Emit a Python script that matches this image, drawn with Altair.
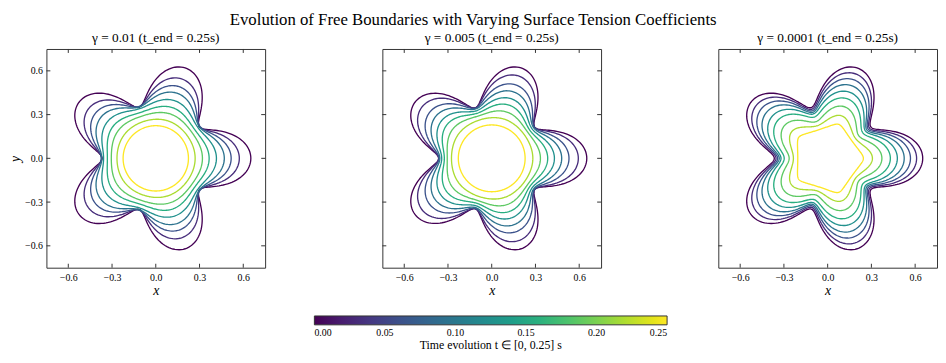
import numpy as np
import pandas as pd
import altair as alt

FONT = "Liberation Serif"

# time stamps of the plotted boundaries (9 snapshots in [0, 0.25] s)
times = [0.0, 0.03125, 0.0625, 0.09375, 0.125, 0.15625, 0.1875, 0.21875, 0.25]

# radius at a petal tip (angle 0) and at a valley (angle 36 deg),
# plus how strongly each boundary is pinched at its necks (negative = flattened sides)
tips_g1 = [0.652, 0.573, 0.517, 0.470, 0.416, 0.366, 0.320, 0.270, 0.224]
vals_g1 = [0.368, 0.372, 0.374, 0.370, 0.358, 0.332, 0.305, 0.266, 0.224]
neck_g1 = [0.045, 0.04, 0.03, 0.02, 0.01, 0.0, 0.0, 0.0, 0.0]

tips_g2 = [0.652, 0.594, 0.530, 0.480, 0.430, 0.384, 0.334, 0.282, 0.229]
vals_g2 = [0.364, 0.364, 0.362, 0.356, 0.343, 0.325, 0.305, 0.276, 0.229]
neck_g2 = [0.045, 0.045, 0.04, 0.03, 0.02, 0.01, 0.0, -0.02, 0.0]

tips_g3 = [0.652, 0.610, 0.568, 0.525, 0.478, 0.430, 0.372, 0.307, 0.245]
vals_g3 = [0.366, 0.354, 0.343, 0.332, 0.320, 0.298, 0.264, 0.235, 0.205]
neck_g3 = [0.045, 0.045, 0.045, 0.045, 0.04, 0.03, 0.015, -0.03, -0.09]

panel_titles = [
    "γ = 0.01 (t_end = 0.25s)",
    "γ = 0.005 (t_end = 0.25s)",
    "γ = 0.0001 (t_end = 0.25s)",
]
tick_vals = [-0.6, -0.3, 0.0, 0.3, 0.6]
cbar_ticks = [0.0, 0.05, 0.10, 0.15, 0.20, 0.25]

W = H = 222
TL = 4  # inward tick length (px)


def boundary_table(tips, vals, necks):
    s = np.linspace(0, 2 * np.pi, 361)
    rows = []
    for k, t in enumerate(times):
        r0 = (tips[k] + vals[k]) / 2
        a = (tips[k] - vals[k]) / 2
        phi = s + necks[k] * np.sin(5 * s)
        r = r0 + a * np.cos(5 * s)
        for i in range(len(s)):
            rows.append({"curve": k, "t": t, "i": i,
                         "x": r[i] * np.cos(phi[i]), "y": r[i] * np.sin(phi[i])})
    return pd.DataFrame(rows)


ticks_df = pd.DataFrame({"v": tick_vals})
dom = [-0.75, 0.75]


def panel(tips, vals, necks, title, show_y):
    df = boundary_table(tips, vals, necks)
    xs = alt.Scale(domain=dom, nice=False, zero=False)
    ys = alt.Scale(domain=dom, nice=False, zero=False)
    lines = alt.Chart(df).mark_line(strokeWidth=1.35, clip=True).encode(
        x=alt.X("x:Q", scale=xs,
                axis=alt.Axis(values=tick_vals, format=".1f", ticks=False, domain=False,
                              grid=False, labelPadding=5, title="x",
                              titleFontStyle="italic", titleFontWeight="normal",
                              titleFontSize=14, titlePadding=1, labelFontSize=10,
                              labelFont=FONT, titleFont=FONT, labelColor="black",
                              titleColor="black")),
        y=alt.Y("y:Q", scale=ys,
                axis=alt.Axis(values=tick_vals, format=".1f", ticks=False, domain=False,
                              grid=False, labelPadding=4, title="y" if show_y else None,
                              labels=show_y,
                              titleFontStyle="italic", titleFontWeight="normal",
                              titleFontSize=14, titlePadding=2, labelFontSize=10,
                              labelFont=FONT, titleFont=FONT, labelColor="black",
                              titleColor="black")),
        color=alt.Color("t:Q", scale=alt.Scale(scheme="viridis", domain=[0, 0.25]),
                        legend=alt.Legend(
                            orient="none", direction="horizontal",
                            legendX=272, legendY=271,
                            gradientLength=358, gradientThickness=9,
                            title="Time evolution t ∈ [0, 0.25] s",
                            titleOrient="bottom", titleAnchor="middle",
                            titleFontSize=12, titleFontWeight="normal", titleFont=FONT,
                            titleColor="black", titlePadding=3,
                            values=cbar_ticks, format=".2f", labelFontSize=10,
                            labelFont=FONT, labelColor="black", labelAlign="center",
                            labelOverlap=False, labelOffset=3,
                            gradientStrokeColor="#333", gradientStrokeWidth=1)),
        detail="curve:N",
        order="i:Q",
    )
    sx = alt.Scale(domain=dom, nice=False, zero=False)
    top = alt.Chart(ticks_df).mark_rule(color="#333", strokeWidth=1).encode(
        x=alt.X("v:Q", scale=sx), y=alt.value(0), y2=alt.value(TL))
    bot = alt.Chart(ticks_df).mark_rule(color="#333", strokeWidth=1).encode(
        x=alt.X("v:Q", scale=sx), y=alt.value(H - TL), y2=alt.value(H))
    left = alt.Chart(ticks_df).mark_rule(color="#333", strokeWidth=1).encode(
        y=alt.Y("v:Q", scale=sx), x=alt.value(0), x2=alt.value(TL))
    right = alt.Chart(ticks_df).mark_rule(color="#333", strokeWidth=1).encode(
        y=alt.Y("v:Q", scale=sx), x=alt.value(W - TL), x2=alt.value(W))
    return alt.layer(lines, top, bot, left, right).properties(
        width=W, height=H,
        title=alt.TitleParams(title, fontSize=13.5, font=FONT, fontWeight="normal",
                              offset=4, color="black"))


p1 = panel(tips_g1, vals_g1, neck_g1, panel_titles[0], True)
p2 = panel(tips_g2, vals_g2, neck_g2, panel_titles[1], False)
p3 = panel(tips_g3, vals_g3, neck_g3, panel_titles[2], False)

chart = alt.hconcat(p1, p2, p3, spacing=117).resolve_scale(color="shared").resolve_legend(
    color="shared").properties(
    title=alt.TitleParams("Evolution of Free Boundaries with Varying Surface Tension Coefficients",
                          fontSize=17, font=FONT, fontWeight="normal", anchor="middle",
                          color="black", offset=2),
    padding={"left": 0, "top": 0, "right": 0, "bottom": 0},
).configure_view(stroke="#333", strokeWidth=1)

chart.save("out.html", embed_options={"renderer": "svg", "actions": False})
